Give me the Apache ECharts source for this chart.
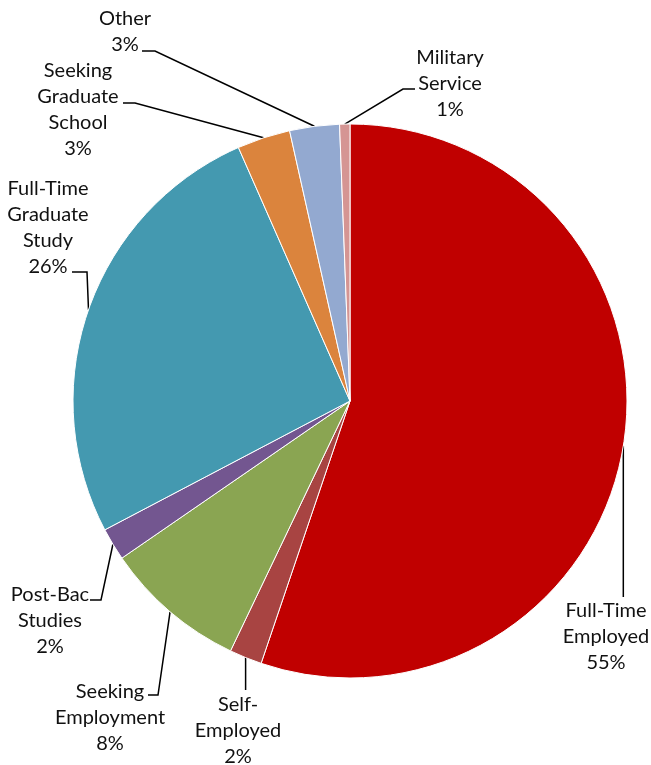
<!DOCTYPE html>
<html>
<head>
<meta charset="utf-8">
<script src="https://cdn.jsdelivr.net/npm/echarts@6/dist/echarts.min.js"></script>
<style>
  html, body { margin: 0; padding: 0; background: #fff; }
  #chart { width: 651px; height: 765px; }
</style>
</head>
<body>
<div id="chart"></div>
<script>
// outcomes, clockwise from 12 o'clock
const categories = [
    "Full-Time\nEmployed",
    "Self-\nEmployed",
    "Seeking\nEmployment",
    "Post-Bac\nStudies",
    "Full-Time\nGraduate\nStudy",
    "Seeking\nGraduate\nSchool",
    "Other",
    "Military\nService",
];
const shares = [55.2, 1.9, 8.3, 1.9, 26.1, 3.1, 2.9, 0.6];
const colors = ["#C00000", "#A84442", "#8AA552", "#735690", "#4499B0", "#DB843D", "#93A9D0", "#D59593"];

// where each label sits and how its leader line bends (label centre, elbow, end)
const labelSpots = [
    { x: 606, y: 637, elbow: [null, 597], end: [null, 597] },
    { x: 238, y: 731, elbow: [null, 690], end: [null, 690] },
    { x: 110, y: 718, elbow: [158, 695], end: [148, 695] },
    { x: 50, y: 621, elbow: [101, 600], end: [90, 600] },
    { x: 48, y: 228, elbow: [87, 272], end: [72, 272] },
    { x: 78, y: 110, elbow: [135, 103], end: [123, 103] },
    { x: 125, y: 32, elbow: [155, 51], end: [142, 51] },
    { x: 450, y: 84, elbow: [403, 89], end: [415, 89] },
];

const myChart = echarts.init(document.getElementById("chart"));

const option = {
    animation: false,
    series: [
        {
            type: "pie",
            center: [350, 401],
            radius: 277,
            startAngle: 90,
            clockwise: true,
            data: categories.map((name, i) => ({
                name: name,
                value: shares[i],
                itemStyle: { color: colors[i] },
            })),
            itemStyle: { borderColor: "#fff", borderWidth: 1 },
            avoidLabelOverlap: false,
            label: {
                show: true,
                formatter: (p) => p.name + "\n" + Math.round(p.percent) + "%",
                fontFamily: "Lato",
                fontSize: 20,
                lineHeight: 26,
                color: "#111",
                align: "center",
                overflow: "none",
                width: 200,
            },
            labelLine: {
                show: true,
                lineStyle: { color: "#000", width: 1.5 },
            },
            labelLayout: function (params) {
                const s = labelSpots[params.dataIndex];
                const start = params.labelLinePoints ? params.labelLinePoints[0] : [0, 0];
                const elbow = [s.elbow[0] === null ? start[0] : s.elbow[0], s.elbow[1]];
                const end = [s.end[0] === null ? start[0] : s.end[0], s.end[1]];
                return {
                    x: s.x,
                    y: s.y,
                    align: "center",
                    verticalAlign: "middle",
                    hideOverlap: false,
                    labelLinePoints: [start, elbow, end],
                };
            },
        },
    ],
};

myChart.setOption(option);
</script>
</body>
</html>
